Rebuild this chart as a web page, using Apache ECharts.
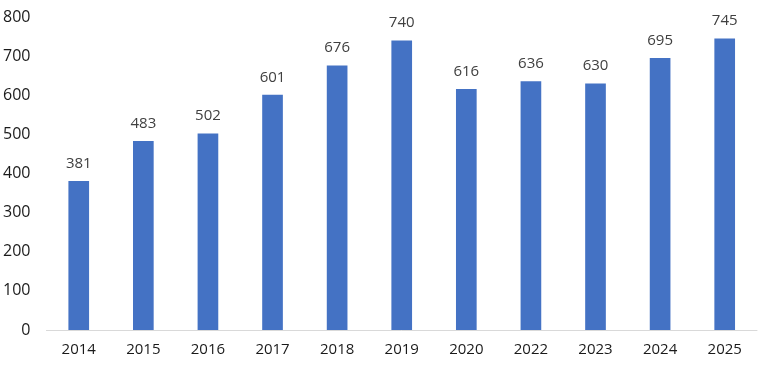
<!DOCTYPE html>
<html>
<head>
<meta charset="utf-8">
<script src="https://cdn.jsdelivr.net/npm/echarts@6/dist/echarts.min.js"></script>
<style>html,body{margin:0;padding:0;background:#fff}#c{width:760px;height:365px}</style>
</head>
<body>
<div id="c"></div>
<script>
var categories = ['2014','2015','2016','2017','2018','2019','2020','2022','2023','2024','2025'];
var values = [381, 483, 502, 601, 676, 740, 616, 636, 630, 695, 745];
var yTicks = [0, 100, 200, 300, 400, 500, 600, 700, 800];

var chart = echarts.init(document.getElementById('c'));
chart.setOption({
  animation: false,
  backgroundColor: '#ffffff',
  grid: { left: 46, right: 3, top: 17, bottom: 35 },
  xAxis: {
    type: 'category',
    data: categories,
    axisLine: { lineStyle: { color: '#d9d9d9', width: 1 } },
    axisTick: { show: false },
    axisLabel: { color: '#1a1a1a', fontSize: 15, fontFamily: 'Open Sans', margin: 12 }
  },
  yAxis: {
    type: 'value',
    min: yTicks[0],
    max: yTicks[yTicks.length - 1],
    interval: 100,
    splitLine: { show: false },
    axisLine: { show: false },
    axisTick: { show: false },
    axisLabel: { color: '#1a1a1a', fontSize: 16, fontFamily: 'Open Sans', margin: 16 }
  },
  series: [{
    type: 'bar',
    data: values,
    barWidth: '32%',
    itemStyle: { color: '#4472C4' },
    label: {
      show: true,
      position: 'top',
      distance: 10,
      color: '#404040',
      fontSize: 15,
      fontFamily: 'Open Sans'
    }
  }]
});
</script>
</body>
</html>
